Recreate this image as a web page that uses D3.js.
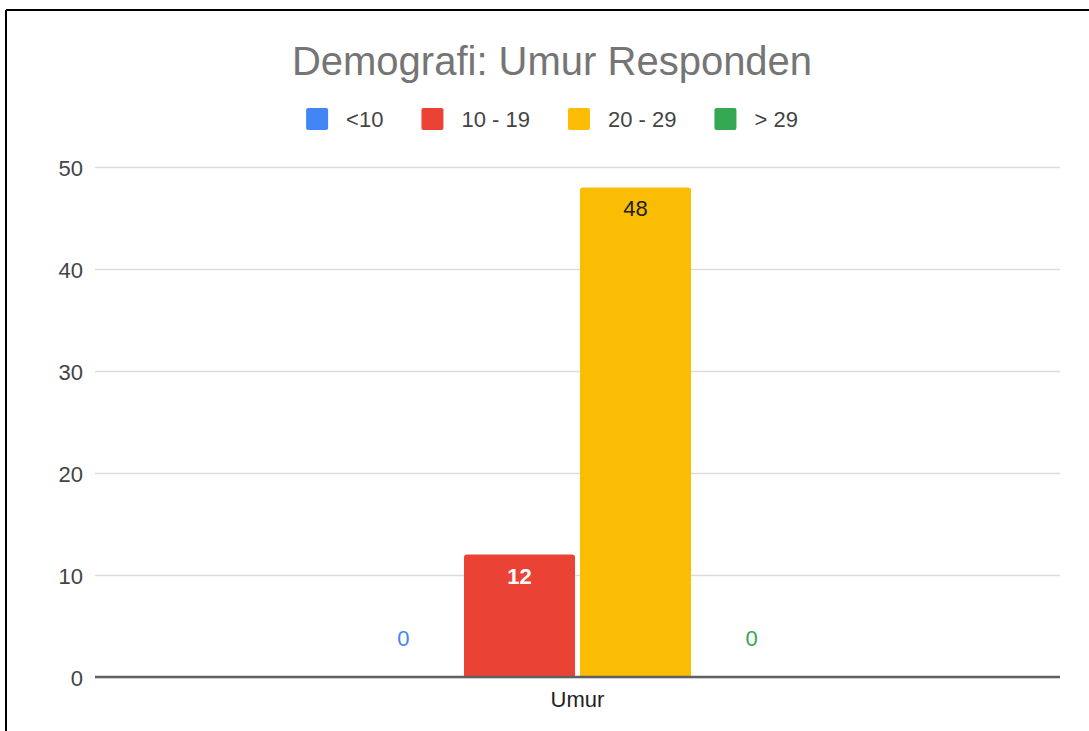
<!DOCTYPE html>
<html>
<head>
<meta charset="utf-8">
<script src="https://cdn.jsdelivr.net/npm/d3@7"></script>
<style>
  body { margin: 0; background: #fff; }
  svg { display: block; font-family: "Liberation Sans", Arial, sans-serif; }
</style>
</head>
<body>
<svg class="main"></svg>
<script>
let categories = ['Umur'];
let seriesNames = ['<10', '10 - 19', '20 - 29', '> 29'];
let seriesColors = ['#4285f4', '#ea4335', '#fbbc04', '#34a853'];
let seriesValues = [0, 12, 48, 0];
let yTicks = [0, 10, 20, 30, 40, 50];

let w = 1089, h = 731;
let plotLeft = 95, plotRight = 1060, plotTop = 167, plotBottom = 677;
let font = '"Liberation Sans", Arial, sans-serif';

let svg = d3.select('.main')
    .attr('width', w)
    .attr('height', h);

// frame (top + left edge only, as in the screenshot)
svg.append('line').attr('x1', 6).attr('x2', w).attr('y1', 10).attr('y2', 10)
    .attr('stroke', '#000').attr('stroke-width', 2);
svg.append('line').attr('x1', 6).attr('x2', 6).attr('y1', 10).attr('y2', h)
    .attr('stroke', '#000').attr('stroke-width', 2);

let y = d3.scaleLinear().domain([0, 50]).range([plotBottom, plotTop]);
let x = d3.scaleBand().domain(categories).range([plotLeft, plotRight]).paddingOuter(0.551);
let xs = d3.scaleBand().domain(seriesNames).range([0, x.bandwidth()]).paddingInner(0.043);

svg.append('text')
    .attr('x', 552).attr('y', 75)
    .attr('text-anchor', 'middle')
    .attr('font-size', 40)
    .attr('fill', '#757575')
    .text('Demografi: Umur Responden');

// grid
let yAxis = svg.append('g')
    .attr('transform', `translate(${plotLeft},0)`)
    .call(d3.axisLeft(y).tickValues(yTicks).tickSize(-(plotRight - plotLeft)).tickPadding(12));
yAxis.select('.domain').remove();
yAxis.selectAll('.tick line')
    .attr('stroke', '#dcdcdc')
    .attr('stroke-width', 1.5);
yAxis.selectAll('.tick text')
    .attr('font-size', 22)
    .attr('fill', '#444')
    .attr('dy', 8)
    .attr('font-family', font);

let bars = svg.append('g');
seriesNames.forEach((s, i) => {
    let v = seriesValues[i];
    let bx = x('Umur') + xs(s);
    if (v > 0) {
        bars.append('path')
            .attr('d', () => {
                let x0 = bx, x1 = bx + xs.bandwidth(), y0 = y(v), y1 = y(0), r = 3;
                return `M${x0},${y1}V${y0 + r}Q${x0},${y0} ${x0 + r},${y0}H${x1 - r}Q${x1},${y0} ${x1},${y0 + r}V${y1}Z`;
            })
            .attr('fill', seriesColors[i]);
    }
    let lbl = bars.append('text')
        .attr('x', bx + xs.bandwidth() / 2)
        .attr('text-anchor', 'middle')
        .attr('font-size', 22)
        .text(v);
    if (v > 0) {
        lbl.attr('y', y(v) + 29)
            .attr('fill', i === 1 ? '#fff' : '#222')
            .attr('font-weight', i === 1 ? 'bold' : 'normal');
    } else {
        lbl.attr('y', y(0) - 31)
            .attr('fill', seriesColors[i]);
    }
});

// baseline drawn over bars
svg.append('line')
    .attr('x1', plotLeft).attr('x2', plotRight)
    .attr('y1', y(0)).attr('y2', y(0))
    .attr('stroke', '#606060').attr('stroke-width', 2.5);

svg.append('text')
    .attr('x', x('Umur') + x.bandwidth() / 2).attr('y', 707)
    .attr('text-anchor', 'middle')
    .attr('font-size', 22)
    .attr('fill', '#222')
    .text('Umur');

// legend
let legend = svg.append('g');
let lx = 0;
let itemGap = 38;
seriesNames.forEach((s, i) => {
    let g = legend.append('g').attr('transform', `translate(${lx},0)`);
    g.append('rect').attr('x', 0).attr('y', 108).attr('width', 22).attr('height', 22)
        .attr('rx', 2).attr('fill', seriesColors[i]);
    let t = g.append('text').attr('x', 40).attr('y', 127)
        .attr('font-size', 22).attr('fill', '#444').text(s);
    lx += 40 + t.node().getComputedTextLength() + itemGap;
});
let lw = lx - itemGap;
legend.attr('transform', `translate(${552 - lw / 2},0)`);
</script>
</body>
</html>
